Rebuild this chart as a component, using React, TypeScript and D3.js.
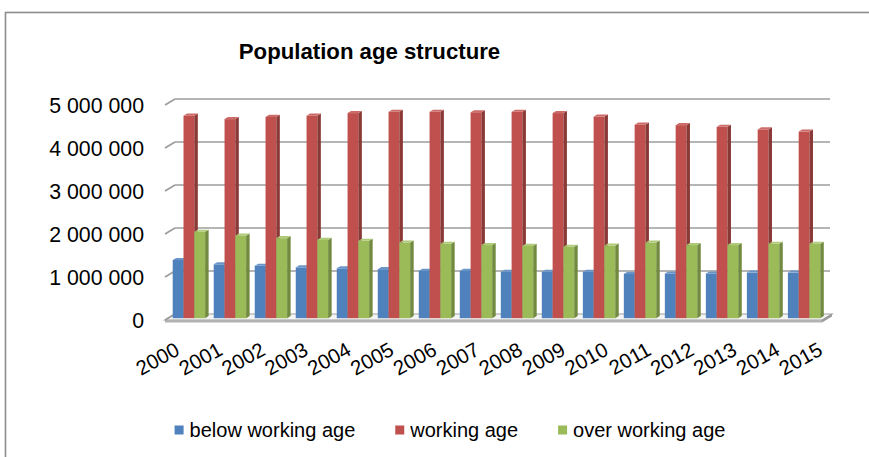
import React, { useEffect, useRef } from 'react';
import * as d3 from 'd3';

// values
const years = ['2000', '2001', '2002', '2003', '2004', '2005', '2006', '2007', '2008', '2009', '2010', '2011', '2012', '2013', '2014', '2015'];
const belowWorking = [1353000, 1253000, 1220000, 1180000, 1160000, 1140000, 1100000, 1100000, 1080000, 1080000, 1080000, 1030000, 1040000, 1040000, 1060000, 1060000];
const working = [4710000, 4630000, 4680000, 4710000, 4770000, 4800000, 4800000, 4790000, 4800000, 4770000, 4690000, 4500000, 4490000, 4450000, 4390000, 4340000];
const overWorking = [2010000, 1920000, 1860000, 1820000, 1800000, 1760000, 1730000, 1700000, 1680000, 1660000, 1690000, 1760000, 1700000, 1700000, 1730000, 1730000];
const seriesNames = ['below working age', 'working age', 'over working age'];
const yTicks = [0, 1000000, 2000000, 3000000, 4000000, 5000000];

const colors = [
  { front: '#4F81BD', side: '#3A6292', top: '#6A95C8' },
  { front: '#C0504D', side: '#8A3936', top: '#CC6B68' },
  { front: '#9BBB59', side: '#718A3F', top: '#AFCA78' },
];

const W = 869;
const H = 457;
const FONT = '"Liberation Sans", Arial, sans-serif';

const App: React.FC = () => {
  const svgRef = useRef<SVGSVGElement | null>(null);

  useEffect(() => {
    const svg = d3.select(svgRef.current);
    svg.selectAll('*').remove();

    const left = 165;
    const right = 822;
    const depth = { x: 10, y: -6 }; // 3d offset front -> back wall
    const barFrom = 0.3;
    const barTo = 0.65;

    const x = d3.scaleBand<string>()
      .domain(years)
      .range([left, right])
      .paddingInner(0.21)
      .paddingOuter(0.115);

    // category labels sit on the perspective front edge, a bit wider than the bars
    const xLabel = d3.scalePoint<string>().domain(years).range([181, 824]);

    const y = d3.scaleLinear().domain([0, 5000000]).range([320, 105]);

    const series = [belowWorking, working, overWorking];

    // chart frame
    svg.append('rect')
      .attr('x', 5.5).attr('y', 12.5)
      .attr('width', 2000).attr('height', 2000)
      .attr('fill', 'none')
      .attr('stroke', '#8c8c8c')
      .attr('stroke-width', 1.6);

    // title
    svg.append('text')
      .attr('x', 369.5).attr('y', 59)
      .attr('text-anchor', 'middle')
      .attr('font-family', FONT)
      .attr('font-weight', 'bold')
      .attr('font-size', 22.2)
      .attr('fill', '#000')
      .text('Population age structure');

    // floor
    const y0 = y(0);
    svg.append('polygon')
      .attr('points', [[left, y0], [right, y0], [right + depth.x, y0 + depth.y], [left + depth.x, y0 + depth.y]].join(' '))
      .attr('fill', '#f4f4f4')
      .attr('stroke', '#a0a0a0')
      .attr('stroke-width', 1.2);
    svg.append('polygon')
      .attr('points', [[left, y0], [right, y0], [right, y0 + 2.5], [left, y0 + 2.5]].join(' '))
      .attr('fill', '#b2b2b2');
    svg.append('polygon')
      .attr('points', [[right, y0], [right + depth.x, y0 + depth.y], [right + depth.x, y0 + depth.y + 2.5], [right, y0 + 2.5]].join(' '))
      .attr('fill', '#9a9a9a');

    // back wall gridlines + side wall diagonals
    const grid = svg.append('g').attr('stroke', '#9c9c9c').attr('stroke-width', 1.6).attr('fill', 'none');
    yTicks.forEach(t => {
      if (t > 0) {
        grid.append('line')
          .attr('x1', left + depth.x).attr('x2', right + depth.x - 2)
          .attr('y1', y(t) + depth.y).attr('y2', y(t) + depth.y);
      }
      grid.append('line')
        .attr('x1', left).attr('y1', y(t))
        .attr('x2', left + depth.x).attr('y2', y(t) + depth.y);
    });

    // y labels
    svg.append('g')
      .selectAll('text')
      .data(yTicks)
      .enter()
      .append('text')
      .attr('x', 144)
      .attr('y', d => y(d))
      .attr('dy', '0.36em')
      .attr('text-anchor', 'end')
      .attr('font-family', FONT)
      .attr('font-size', 21.3)
      .attr('fill', '#000')
      .text(d => d3.format(',')(d).replace(/,/g, ' '));

    // bars
    const bw = x.bandwidth() / 3;
    const fx = depth.x * barFrom;
    const fy = depth.y * barFrom;
    const dx = depth.x * (barTo - barFrom);
    const dy = depth.y * (barTo - barFrom);
    const bars = svg.append('g');
    years.forEach((yr, i) => {
      series.forEach((vals, s) => {
        const x0 = (x(yr) || 0) + s * bw + fx;
        const yt = y(vals[i]) + fy;
        const yb = y(0) + fy;
        const c = colors[s];
        bars.append('rect')
          .attr('x', x0).attr('y', yt)
          .attr('width', bw).attr('height', yb - yt)
          .attr('fill', c.front);
        bars.append('polygon')
          .attr('points', [[x0 + bw, yt], [x0 + bw + dx, yt + dy], [x0 + bw + dx, yb + dy], [x0 + bw, yb]].join(' '))
          .attr('fill', c.side);
        bars.append('polygon')
          .attr('points', [[x0, yt], [x0 + dx, yt + dy], [x0 + bw + dx, yt + dy], [x0 + bw, yt]].join(' '))
          .attr('fill', c.top);
      });
    });

    // x labels
    svg.append('g')
      .selectAll('text')
      .data(years)
      .enter()
      .append('text')
      .attr('transform', d => `translate(${xLabel(d)}, 354) rotate(-29)`)
      .attr('text-anchor', 'end')
      .attr('font-family', FONT)
      .attr('font-size', 20.5)
      .attr('fill', '#000')
      .text(d => d);

    // legend
    const legend = svg.append('g');
    const items = seriesNames.map((name, s) => {
      const g = legend.append('g');
      g.append('rect')
        .attr('x', 0).attr('y', -4.5)
        .attr('width', 9).attr('height', 9)
        .attr('fill', colors[s].front);
      const t = g.append('text')
        .attr('x', 15).attr('y', 0)
        .attr('dy', '0.36em')
        .attr('font-family', FONT)
        .attr('font-size', 20)
        .attr('fill', '#000')
        .text(name);
      const w = 15 + ((t.node() as SVGTextElement).getComputedTextLength());
      return { g, w };
    });
    const gap = 40;
    const total = d3.sum(items, d => d.w) + gap * (items.length - 1);
    let cx = 450 - total / 2;
    items.forEach(it => {
      it.g.attr('transform', `translate(${cx}, 430)`);
      cx += it.w + gap;
    });
  }, []);

  return (
    <>
      <style>{'body{margin:0;background:#fff}'}</style>
      <svg ref={svgRef} width={W} height={H} style={{ display: 'block', background: '#fff' }} />
    </>
  );
};

export default App;
